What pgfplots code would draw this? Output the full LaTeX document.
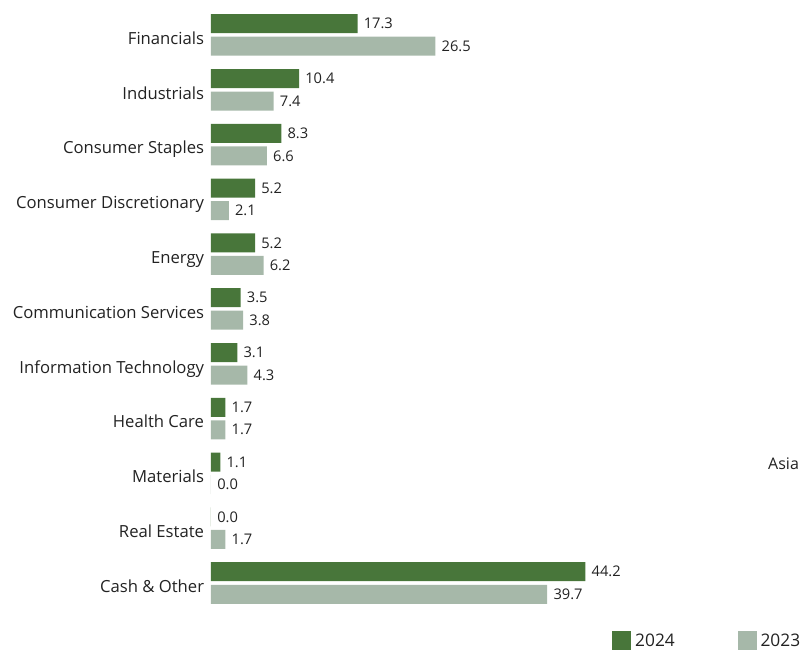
\documentclass[border=0pt]{standalone}
\usepackage{fontspec}
\setmainfont{Open Sans}
\usepackage{pgfplots}
\pgfplotsset{compat=1.18}
\definecolor{dkgreen}{HTML}{48763A}
\definecolor{ltgreen}{HTML}{A6B8A9}
\definecolor{txt}{HTML}{222222}

\begin{document}
\begin{tikzpicture}
% y: Financials at 10 ... Cash & Other at 0
\begin{axis}[
    name=main,
    xbar,
    scale only axis,
    width=446.25pt, height=452.1pt,
    xmin=0, xmax=70.25,
    ymin=-0.5, ymax=10.5,
    bar width=14.25pt,
    axis line style={draw=none},
    major tick length=0pt,
    xtick=\empty,
    ytick={0,1,2,3,4,5,6,7,8,9,10},
    yticklabels={Cash \& Other, Real Estate, Materials, Health Care, Information Technology, Communication Services, Energy, Consumer Discretionary, Consumer Staples, Industrials, Financials},
    yticklabel style={anchor=base east, inner sep=0pt, xshift=-5pt, yshift=-7pt, font=\fontsize{12.5}{14}\selectfont, text=txt},
    nodes near coords,
    nodes near coords align={horizontal},
    every node near coord/.append style={anchor=west, inner xsep=4.5pt, font=\fontsize{11}{13}\selectfont, text=txt},
    /pgf/number format/.cd, fixed, fixed zerofill, precision=1, assume math mode=true,
    /pgfplots/.cd,
    legend columns=2,
    legend style={at={(0.6739,-0.0506)}, anchor=west, draw=none, fill=none, inner sep=0pt,
        font=\fontsize{13}{15}\selectfont, text=txt,
        /tikz/every odd column/.append style={column sep=1pt},
        /tikz/every even column/.append style={column sep=45pt}},
    legend image code/.code={\fill[#1] (0pt,-7.1pt) rectangle (14.25pt,7.1pt);},
]
\addplot[fill=dkgreen, draw=none, bar shift=8.44pt] coordinates {
    (44.2,0) (0.0,1) (1.1,2) (1.7,3) (3.1,4) (3.5,5) (5.2,6) (5.2,7) (8.3,8) (10.4,9) (17.3,10)
};
\addlegendentry{2024}
\addplot[fill=ltgreen, draw=none, bar shift=-8.44pt] coordinates {
    (39.7,0) (1.7,1) (0.0,2) (1.7,3) (4.3,4) (3.8,5) (6.2,6) (2.1,7) (6.6,8) (7.4,9) (26.5,10)
};
\addlegendentry{2023}
\node[anchor=base, font=\fontsize{12}{14}\selectfont, text=txt] at (axis cs:67.6,2.07) {Asia};
\end{axis}
\pgfresetboundingbox
\useasboundingbox ([shift={(-158.25pt,457.8pt)}]main.south west) rectangle ([shift={(446.25pt,-31.2pt)}]main.south west);
\end{tikzpicture}
\end{document}
